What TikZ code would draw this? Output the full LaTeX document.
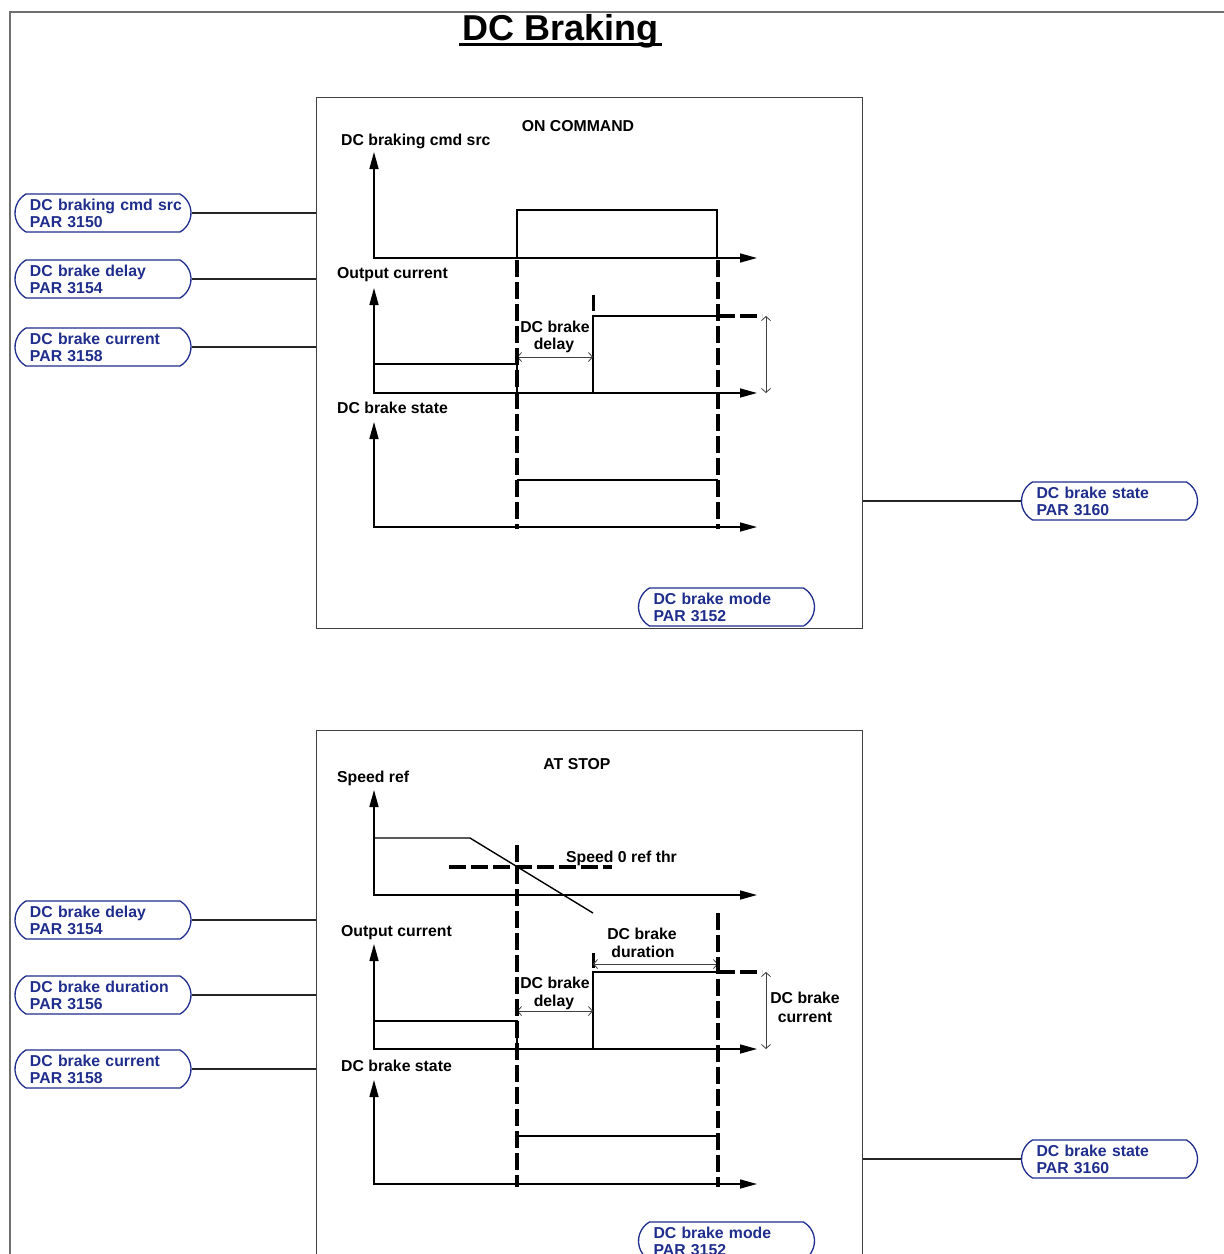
\documentclass[tikz,border=0pt]{standalone}
\usepackage{fontspec}
\setmainfont{Liberation Sans}
\usetikzlibrary{arrows.meta,shapes.misc}
\definecolor{pblue}{HTML}{1F2D8C}
\definecolor{framegray}{HTML}{707070}
\definecolor{panelgray}{HTML}{404040}
\begin{document}
\begin{tikzpicture}[x=1pt,y=-1pt,
  lbl/.style={font=\bfseries\fontsize{15.8}{18}\selectfont, inner sep=0},
  param/.style={rounded rectangle, rounded rectangle arc length=120, draw=pblue, line width=1.3pt,
     text=pblue, font=\bfseries\fontsize{15.8}{17}\selectfont, minimum width=176pt, minimum height=38pt,
     text width=146pt, align=left, inner sep=0pt},
  panel/.style={draw=panelgray, line width=1pt, inner sep=0pt},
  conn/.style={line width=1.3pt, draw=black!85},
  ax/.style={{Triangle[length=17pt,width=9pt]}-{Triangle[length=17pt,width=9pt]}, line width=1.5pt},
  sig/.style={line width=1.4pt},
  dsh/.style={line width=3.2pt, dash pattern=on 17pt off 5pt},
  tck/.style={line width=3pt},
  dim/.style={{Straight Barb[length=4pt,width=9pt]}-{Straight Barb[length=4pt,width=9pt]}, line width=0.8pt, draw=black!75}
]
\clip (0,0) rectangle (1224,1254);
\useasboundingbox (0,0) rectangle (1224,1254);
\fill[white] (0,0) rectangle (1224,1254);

% outer frame
\draw[framegray, line width=2pt] (10,1270) -- (10,12) -- (1240,12);

% title
\node[font=\bfseries\fontsize{36}{40}\selectfont, inner sep=0, anchor=base] (title) at (560.5,40) {DC Braking};
\draw[line width=2.5pt] (459,44.5) -- (662,44.5);

% panels
\node[panel, minimum width=546pt, minimum height=531pt] (panelA) at (589,362.5) {};
\node[panel, minimum width=546pt, minimum height=580pt] (panelB) at (589,1020) {};

% ================= TOP PANEL: ON COMMAND =================
\node[lbl, anchor=base] (onc) at (578,131) {ON COMMAND};
\node[lbl, anchor=base west] (la1) at (341,145) {DC braking cmd src};
\node[lbl, anchor=base west] (la2) at (337,278) {Output current};
\node[lbl, anchor=base west] (la3) at (337,413) {DC brake state};
\node[lbl, anchor=base] (da1) at (555,332) {DC brake};
\node[lbl, anchor=base] (da2) at (554,349) {delay};

% axes
\draw[ax] (374,152) |- (757,258);
\draw[ax] (374,288) |- (757,393);
\draw[ax] (374,422) |- (757,527);

% cmd pulse
\draw[sig] (517,258) -- (517,210) -- (717,210) -- (717,258);
% output current
\draw[sig] (374,364) -- (517,364) -- (517,393);
\draw[sig] (517,393) -- (593,393) -- (593,316) -- (718,316);
\draw[dsh] (718,316) -- (762,316);
\draw[tck] (593,295) -- (593,311);
\draw[dim] (517,357) -- (593,357);
\draw[dim] (766,316) -- (766,393);
% state
\draw[sig] (517,480) -- (718,480);
% dashed verticals
\draw[dsh] (517,260) -- (517,529);
\draw[dsh] (718,260) -- (718,529);

% parameters top
\node[param] (pa1) at (103,213) {\mbox{DC braking cmd src}\\PAR 3150};
\node[param] (pa2) at (103,279) {\mbox{DC brake delay}\\PAR 3154};
\node[param] (pa3) at (103,347) {\mbox{DC brake current}\\PAR 3158};
\node[param] (pa4) at (1109.5,501) {\mbox{DC brake state}\\PAR 3160};
\node[param] (pa5) at (726.5,607) {\mbox{DC brake mode}\\PAR 3152};
\draw[conn] (pa1.east) -- (pa1.east -| panelA.west);
\draw[conn] (pa2.east) -- (pa2.east -| panelA.west);
\draw[conn] (pa3.east) -- (pa3.east -| panelA.west);
\draw[conn] (pa4.west) -- (pa4.west -| panelA.east);

% ================= BOTTOM PANEL: AT STOP =================
\node[lbl, anchor=base] (ats) at (577,769) {AT STOP};
\node[lbl, anchor=base west] (lb1) at (337,782) {Speed ref};
\node[lbl, anchor=base west] (lb0) at (566,862) {Speed 0 ref thr};
\node[lbl, anchor=base west] (lb2) at (341,936) {Output current};
\node[lbl, anchor=base west] (lb3) at (341,1071) {DC brake state};
\node[lbl, anchor=base] (db1) at (642,939) {DC brake};
\node[lbl, anchor=base] (db2) at (643,957) {duration};
\node[lbl, anchor=base] (db3) at (555,988) {DC brake};
\node[lbl, anchor=base] (db4) at (554,1006) {delay};
\node[lbl, anchor=base] (db5) at (805,1003) {DC brake};
\node[lbl, anchor=base] (db6) at (805,1022) {current};

% axes
\draw[ax] (374,790) |- (757,895);
\draw[ax] (374,944) |- (757,1049);
\draw[ax] (374,1080) |- (757,1184);

% speed ref
\draw[sig] (374,838) -- (470,838) -- (593,913);
\draw[dsh] (449,867) -- (612,867);
% output current
\draw[sig] (374,1021) -- (517,1021) -- (517,1049);
\draw[sig] (517,1049) -- (593,1049) -- (593,972) -- (718,972);
\draw[dsh] (718,972) -- (762,972);
\draw[tck] (593,953) -- (593,968);
\draw[dim] (593,964) -- (718,964);
\draw[dim] (517,1011) -- (593,1011);
\draw[dim] (766,972) -- (766,1049);
% state
\draw[sig] (517,1136) -- (718,1136);
% dashed verticals
\draw[dsh] (517,845) -- (517,1187);
\draw[dsh] (718,913) -- (718,1187);

% parameters bottom
\node[param] (pb1) at (103,920) {\mbox{DC brake delay}\\PAR 3154};
\node[param] (pb2) at (103,995) {\mbox{DC brake duration}\\PAR 3156};
\node[param] (pb3) at (103,1069) {\mbox{DC brake current}\\PAR 3158};
\node[param] (pb4) at (1109.5,1159) {\mbox{DC brake state}\\PAR 3160};
\node[param] (pb5) at (726.5,1241) {\mbox{DC brake mode}\\PAR 3152};
\draw[conn] (pb1.east) -- (pb1.east -| panelB.west);
\draw[conn] (pb2.east) -- (pb2.east -| panelB.west);
\draw[conn] (pb3.east) -- (pb3.east -| panelB.west);
\draw[conn] (pb4.west) -- (pb4.west -| panelB.east);
\end{tikzpicture}
\end{document}
